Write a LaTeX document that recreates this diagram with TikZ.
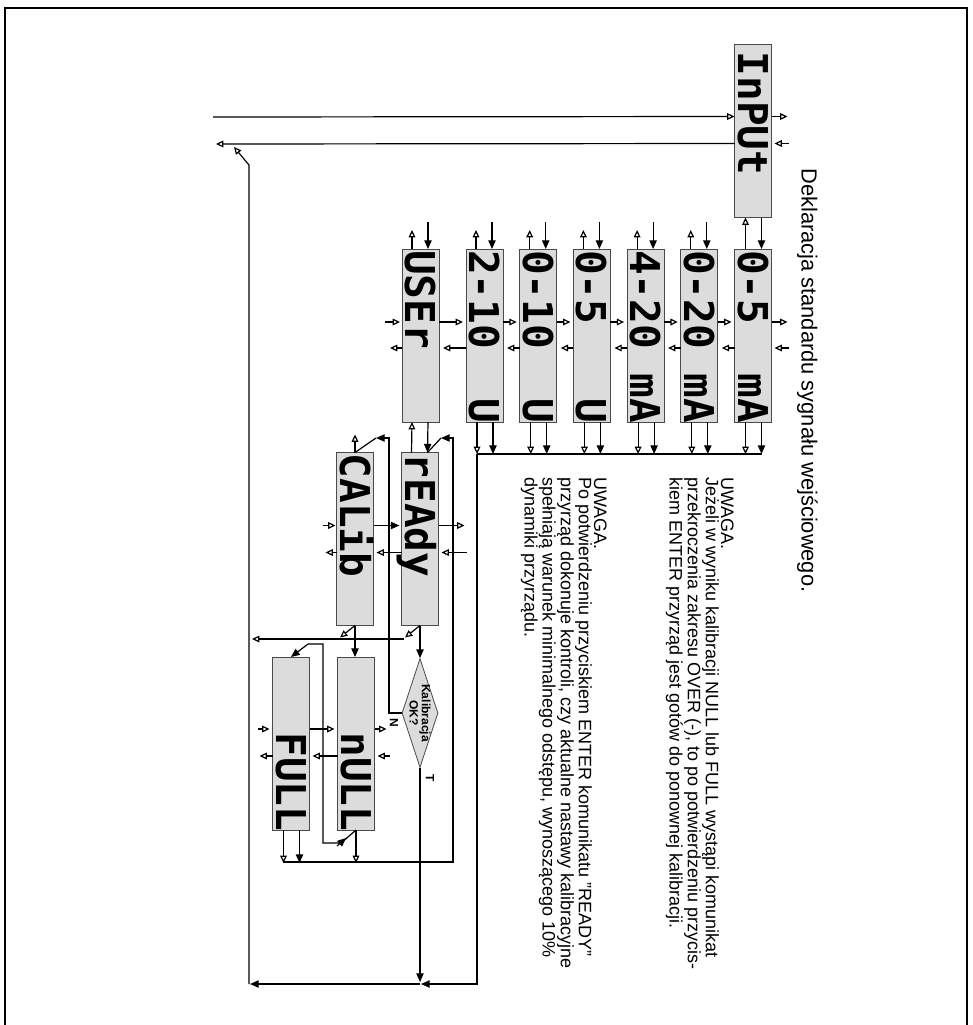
\documentclass[tikz,border=0pt]{standalone}
\usepackage{fontspec}
\setmainfont{Liberation Sans}
\newfontfamily\segfont{DejaVu Sans Mono}
\usetikzlibrary{arrows.meta,shapes.geometric,calc}
\definecolor{boxgray}{HTML}{DCDCDC}
\definecolor{edgegray}{HTML}{4A4A4A}
\begin{document}
\begin{tikzpicture}[x=0.75pt,y=-0.75pt,
  disp/.style={draw=edgegray, fill=boxgray, line width=0.6pt, minimum width=27.75pt, minimum height=129.75pt, inner sep=0pt, outer sep=0pt},
  ln/.style={line width=0.9pt},
  toopen/.style={ln,-{Triangle[open,length=5.5pt,width=5pt]}},
  tofill/.style={ln,-{Triangle[length=6.5pt,width=5.5pt]}},
  segtxt/.style={rotate=-90, anchor=west, inner sep=0pt, font=\segfont\bfseries\fontsize{30.8pt}{30.8pt}\selectfont, text height=22.4pt, text depth=0pt},
  note/.style={rotate=-90, anchor=north west, align=left, inner sep=0pt, font=\fontsize{13.5pt}{11.4pt}\selectfont},
  lbl/.style={rotate=-90, inner sep=0pt, font=\bfseries\fontsize{9pt}{8pt}\selectfont}
]
\useasboundingbox (0,0) rectangle (972,1025);
% frame
\draw[line width=1.1pt] (5,1030) -- (5,8) -- (967,8) -- (967,1030);

% display boxes
\node[disp] (inp) at (753,131) {};
\node[disp] (b7) at (753,335.5) {};
\node[disp] (b6) at (699.3,335.5) {};
\node[disp] (b5) at (645.6,335.5) {};
\node[disp] (b4) at (591.9,335.5) {};
\node[disp] (b3) at (538.2,335.5) {};
\node[disp] (b2) at (484.5,335.5) {};
\node[disp] (b1) at (420.5,335.5) {};
\node[disp] (rdy) at (420,539) {};
\node[disp] (cal) at (355,539) {};
\node[disp] (nul) at (356,743.5) {};
\node[disp] (full) at (291,743.5) {};
\node[diamond, draw=edgegray, fill=boxgray, line width=0.6pt, minimum width=27pt, minimum height=81.75pt, inner sep=0pt] (dia) at (420,713) {};

% display texts
\node[segtxt] at ($(inp.north)+(0,7)$) {InPUt};
\node[segtxt] at ($(b7.north)+(0,1)$) {0-5~~mA};
\node[segtxt] at ($(b6.north)+(0,1)$) {0-20~mA};
\node[segtxt] at ($(b5.north)+(0,1)$) {4-20~mA};
\node[segtxt] at ($(b4.north)+(0,1)$) {0-5~~~U};
\node[segtxt] at ($(b3.north)+(0,1)$) {0-10~~U};
\node[segtxt] at ($(b2.north)+(0,1)$) {2-10~~U};
\node[segtxt] at ($(b1.north)+(0,1)$) {USEr};
\node[segtxt] at ($(rdy.north)+(0,1)$) {rEAdy};
\node[segtxt] at ($(cal.north)+(0,1)$) {CALib};
\node[segtxt] at ($(nul.north)+(0,1)$) {~~~nULL};
\node[segtxt] at ($(full.north)+(0,1)$) {~~~FULL};

% diamond labels
\node[lbl, align=center] at (dia.center) {Kalibracja\\OK?};
\node[lbl] (lN) at (394,723) {N};
\node[lbl] (lT) at (430,778) {T};

% texts
\node[note, font=\fontsize{16.4pt}{18pt}\selectfont] (title) at (818,168) {Deklaracja standardu sygnału wejściowego.};
\node[note] (n1) at (734,477) {UWAGA.\\Jeżeli w wyniku kalibracji NULL lub FULL wystąpi komunikat\\przekroczenia zakresu OVER (-), to po potwierdzeniu przycis-\\kiem ENTER przyrząd jest gotów do ponownej kalibracji.};
\node[note] (n2) at (607,477) {UWAGA.\\Po potwierdzeniu przyciskiem ENTER komunikatu "READY"\\przyrząd dokonuje kontroli, czy aktualne nastawy kalibracyjne\\spełniają warunek minimalnego odstępu, wynoszącego 10\%\\dynamiki przyrządu.};

% InPUt connectors
\coordinate (inA) at (213,117);
\coordinate (inB) at (216,144);
\draw[toopen] (inA) -- ($(inp.north west)+(0,72)$);
\draw[toopen] ($(inp.north west)+(0,99)$) -- (inB);
\draw[toopen] ($(inp.north east)+(0,72)$) -- ($(inp.north east)+(16,72)$);
\draw[toopen] ($(inp.north east)+(17,99)$) -- ($(inp.north east)+(3,99)$);
\draw[toopen] ($(b7.north west)+(11,0)$) -- ($(inp.south west)+(11,0)$);
\draw[tofill] ($(inp.south west)+(27,0)$) -- ($(b7.north west)+(27,0)$);

% row 1 top stubs
\foreach \b in {b1,b2,b3,b4,b5,b6}{
  \draw[toopen] ($(\b.north west)+(10,0)$) -- ($(\b.north west)+(10,-19)$);
  \draw[tofill] ($(\b.north west)+(26,-27)$) -- ($(\b.north west)+(26,0)$);
}
% row 1 bottoms to bus
\foreach \b in {b2,b3,b4,b5,b6,b7}{
  \draw[toopen] ($(\b.south west)+(11,0)$) -- ($(\b.south west)+(11,32)$);
  \draw[tofill] ($(\b.south west)+(27,0)$) -- ($(\b.south west)+(27,32)$);
}
\coordinate (busL) at ($(b2.south west)+(11,32)$);
\coordinate (busR) at ($(b7.south west)+(27,32)$);
\coordinate (bot) at (0,984);
\coordinate (lv) at (249,984);
\coordinate (lvTop) at (249,165);
\coordinate (lvTip) at (234,147);
\draw[ln] (busL) -- (busR);
\draw[tofill] (busL) |- ($(dia.south |- bot)+(1,0)$);
\draw[tofill] (dia.south |- bot) -- ($(lv)+(1,0)$);
\draw[tofill] (dia.south) -- ($(dia.south |- bot)+(0,-2)$);
\draw[toopen] (lv) -- (lvTop) -- (lvTip);

% row 1 side arrows
\foreach \l/\r in {b1/b2,b2/b3,b3/b4,b4/b5,b5/b6,b6/b7}{
  \draw[toopen] ($(\l.north east)+(0,73)$) -- ($(\r.north west)+(-3,73)$);
  \draw[toopen] ($(\r.north west)+(0,99)$) -- ($(\l.north east)+(4,99)$);
}
\draw[toopen] ($(b1.north west)+(-17,73)$) -- ($(b1.north west)+(-2,73)$);
\draw[toopen] ($(b1.north west)+(0,99)$) -- ($(b1.north west)+(-12,99)$);
\draw[toopen] ($(b7.north east)+(0,73)$) -- ($(b7.north east)+(16,73)$);
\draw[toopen] ($(b7.north east)+(17,99)$) -- ($(b7.north east)+(3,99)$);

% USEr <-> rEAdy
\draw[toopen] ($(rdy.north west)+(10,0)$) -- ($(b1.south west)+(10,0)$);
\draw[tofill] ($(b1.south west)+(26,0)$) -- ($(rdy.north west)+(26,0)$);

% row 2 side arrows
\draw[toopen] ($(cal.north west)+(-14,73)$) -- ($(cal.north west)+(-1,73)$);
\draw[toopen] ($(cal.north west)+(0,100)$) -- ($(cal.north west)+(-11,100)$);
\draw[tofill] ($(cal.north east)+(0,73)$) -- ($(rdy.north west)+(-2,73)$);
\draw[toopen] ($(rdy.north west)+(0,100)$) -- ($(cal.north east)+(3,100)$);
\draw[toopen] ($(rdy.north east)+(0,73)$) -- ($(rdy.north east)+(26,73)$);
\draw[toopen] ($(rdy.north east)+(28,100)$) -- ($(rdy.north east)+(3,100)$);

% loops into tops of rEAdy and CALib
\coordinate (rl) at (441,438);
\coordinate (cl) at (376,438);
\coordinate (fl) at (283,862);
\draw[tofill] (fl) -- (453,862) -- (453,438) -- (rl);
\draw[ln] (rl) -- ($(rdy.north west)+(26,0)$);
\draw[tofill] (dia.west) -- (389,713) -- (389,438) -- (cl);
\draw[ln] (cl) -- (cal.north);
\draw[toopen] (cal.north) -- ($(cal.north)+(0,-18)$);

% bottoms of CALib and rEAdy
\draw[tofill] (cal.south) -- (cal.south |- nul.north);
\draw[toopen] (cal.south) -- ($(cal.south)+(-15,12)$);
\draw[tofill] (rdy.south) -- (dia.north);
\draw[toopen] (rdy.south) -- ($(rdy.south)+(-15,12)$);
\draw[toopen] (404,639) -- (252,639);

% row 3 side arrows
\draw[toopen] ($(full.north west)+(-15,72)$) -- ($(full.north west)+(-3,72)$);
\draw[toopen] ($(full.north west)+(0,99)$) -- ($(full.north west)+(-13,99)$);
\draw[toopen] ($(full.north east)+(0,72)$) -- ($(nul.north west)+(-3,72)$);
\draw[toopen] ($(nul.north west)+(0,99)$) -- ($(full.north east)+(3,99)$);
\draw[toopen] ($(nul.north east)+(0,72)$) -- ($(nul.north east)+(12,72)$);
\draw[toopen] ($(nul.north east)+(15,99)$) -- ($(nul.north east)+(3,99)$);

% nULL -> FULL loop
\draw[ln] (nul.south) -- (341,843) -- (323,843) -- (323,644) -- (308,644);
\draw[tofill] (308,644) -- (full.north);
\draw[tofill] (337,846) -- (346,838);

% bottoms of nULL and FULL
\draw[toopen] ($(full.south west)+(11,0)$) -- ($(full.south west)+(11,33)$);
\draw[tofill] ($(full.south west)+(27,0)$) -- ($(full.south west)+(27,33)$);
\draw[toopen] (nul.south) -- ($(nul.south)+(0,33)$);
\end{tikzpicture}
\end{document}
